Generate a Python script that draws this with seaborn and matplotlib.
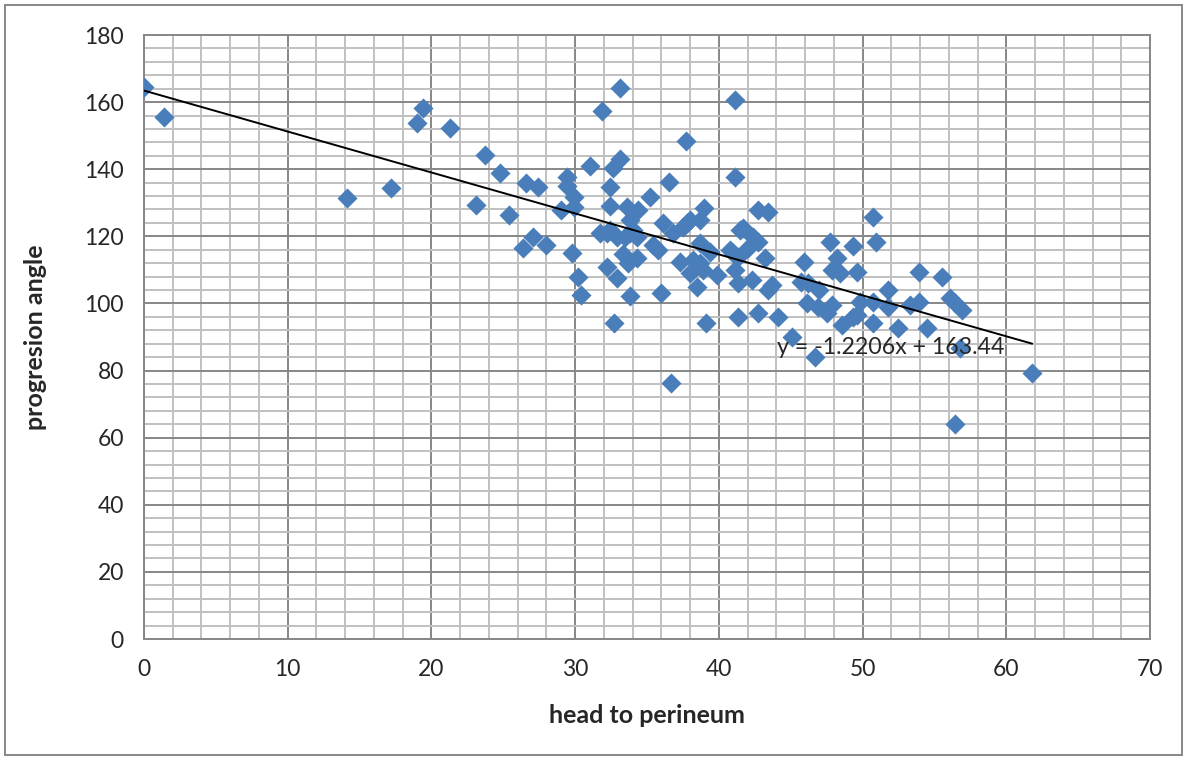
import seaborn as sns
import matplotlib.pyplot as plt
from matplotlib.patches import Rectangle
from matplotlib.ticker import MultipleLocator
import numpy as np
import pandas as pd

sns.set_style("white")
plt.rcParams["font.family"] = ["Lato", "DejaVu Sans"]

# values
head_to_perineum = [
    0.0, 1.4, 14.1, 17.2, 19.0, 19.4, 21.3, 23.1, 23.7, 24.8, 25.4, 26.4, 26.6, 27.1, 27.4, 28.0,
    29.0, 29.4, 29.4, 29.9, 29.9, 29.8, 30.2, 30.4, 31.0, 31.7, 31.9, 32.2, 32.2, 32.4, 32.4,
    32.4, 32.6, 32.7, 32.9, 32.9, 33.1, 33.1, 33.3, 33.5, 33.6, 33.7, 33.8, 33.8, 33.8, 34.0,
    34.3, 34.3, 34.4,
    35.2, 35.4, 35.8, 36.0, 36.1, 36.5, 36.7, 36.8, 37.3, 37.5, 37.7, 37.8, 38.0, 38.2, 38.0,
    38.5, 38.7, 38.7, 38.7, 38.9, 39.0, 39.1, 39.4, 39.9,
    40.8, 41.0, 41.1, 41.1, 41.1, 41.3, 41.3, 41.3, 41.5, 41.7, 42.0, 42.3, 42.4, 42.7, 42.7,
    42.7, 43.2, 43.4, 43.4, 43.7, 44.1, 45.1,
    45.7, 45.9, 46.1, 46.2, 46.7, 46.9, 47.0, 47.5, 47.7, 47.9, 47.9, 48.2, 48.4, 48.6, 49.3,
    49.3, 49.6, 49.6, 49.8, 50.7, 50.7, 50.7, 50.9, 51.8, 51.8,
    52.5, 53.3, 53.9, 53.9, 54.5, 55.5, 56.1, 56.4, 56.9, 56.8, 56.4, 61.8,
]
progression_angle = [
    164.5, 155.6, 131.5, 134.4, 153.9, 158.2, 152.4, 129.3, 144.2, 138.9, 126.3, 116.5, 135.9, 119.8, 134.7, 117.4,
    127.8, 137.7, 135.0, 131.7, 128.7, 115.0, 108.0, 102.5, 141.0, 121.0, 157.3, 110.8, 121.0, 134.7, 129.0,
    121.9, 140.3, 94.2, 119.8, 107.6, 164.2, 143.0, 114.6, 119.8, 128.7, 112.0, 124.8, 121.0, 102.2, 121.9,
    119.8, 113.5, 127.8,
    131.7, 117.4, 115.9, 103.1, 124.0, 136.2, 76.3, 121.0, 112.3, 122.8, 148.4, 124.0, 124.8, 112.9, 109.0,
    104.9, 124.9, 118.0, 112.0, 110.0, 128.4, 94.2, 115.3, 108.5,
    116.0, 115.0, 110.0, 160.6, 137.7, 113.8, 106.1, 95.9, 121.8, 122.5, 116.5, 107.0, 119.8, 118.3, 127.8,
    97.1, 113.5, 127.2, 104.0, 105.5, 96.0, 90.0,
    106.4, 112.3, 100.1, 106.0, 84.0, 98.9, 104.0, 97.1, 118.3, 99.5, 110.0, 113.5, 109.0, 93.6, 117.1,
    96.0, 109.4, 96.5, 100.4, 125.7, 100.4, 94.2, 118.3, 104.0, 98.9,
    92.7, 99.5, 100.4, 109.4, 92.7, 107.9, 101.6, 100.1, 98.0, 86.7, 64.1, 79.3,
]
trend_slope = -1.2206
trend_intercept = 163.44
trend_label = "y = -1.2206x + 163.44"

df = pd.DataFrame({"head to perineum": head_to_perineum, "progresion angle": progression_angle})

fig = plt.figure(figsize=(11.87, 7.6), dpi=100)
ax = fig.add_axes([144 / 1187, 1 - 639 / 760, (1150 - 144) / 1187, (639 - 35) / 760])

major_c = "#878787"
minor_c = "#c0c0c0"
ax.set_xlim(0, 70)
ax.set_ylim(0, 180)
ax.xaxis.set_major_locator(MultipleLocator(10))
ax.xaxis.set_minor_locator(MultipleLocator(2))
ax.yaxis.set_major_locator(MultipleLocator(20))
ax.yaxis.set_minor_locator(MultipleLocator(4))
ax.grid(which="minor", color=minor_c, lw=1.4)
ax.grid(which="major", color=major_c, lw=1.4)
ax.set_axisbelow(True)
for s in ax.spines.values():
    s.set_color(major_c)
    s.set_linewidth(1.4)

sns.scatterplot(data=df, x="head to perineum", y="progresion angle", marker="D",
                s=105, color="#4a7ebb", linewidth=0, ax=ax, zorder=3)

xs = np.array([min(head_to_perineum), max(head_to_perineum)])
ax.plot(xs, trend_intercept + trend_slope * xs, color="black", lw=1.4, zorder=4)
ax.text(44.05, 87.0, trend_label, fontsize=16.7, va="center", ha="left", zorder=5)

ax.tick_params(which="major", direction="out", length=5.5, width=1.4, color=major_c,
               labelsize=16.5, pad=9)
ax.tick_params(which="minor", length=0)
ax.set_xlabel("head to perineum", fontsize=18, fontweight="bold", labelpad=17)
ax.set_ylabel("progresion angle", fontsize=18, fontweight="bold", labelpad=27)

fig.patches.append(Rectangle((5 / 1187, 5 / 760), 1177 / 1187, 750 / 760, transform=fig.transFigure,
                             fill=False, edgecolor=major_c, lw=1.4))

fig.savefig("out.png", dpi=100)
